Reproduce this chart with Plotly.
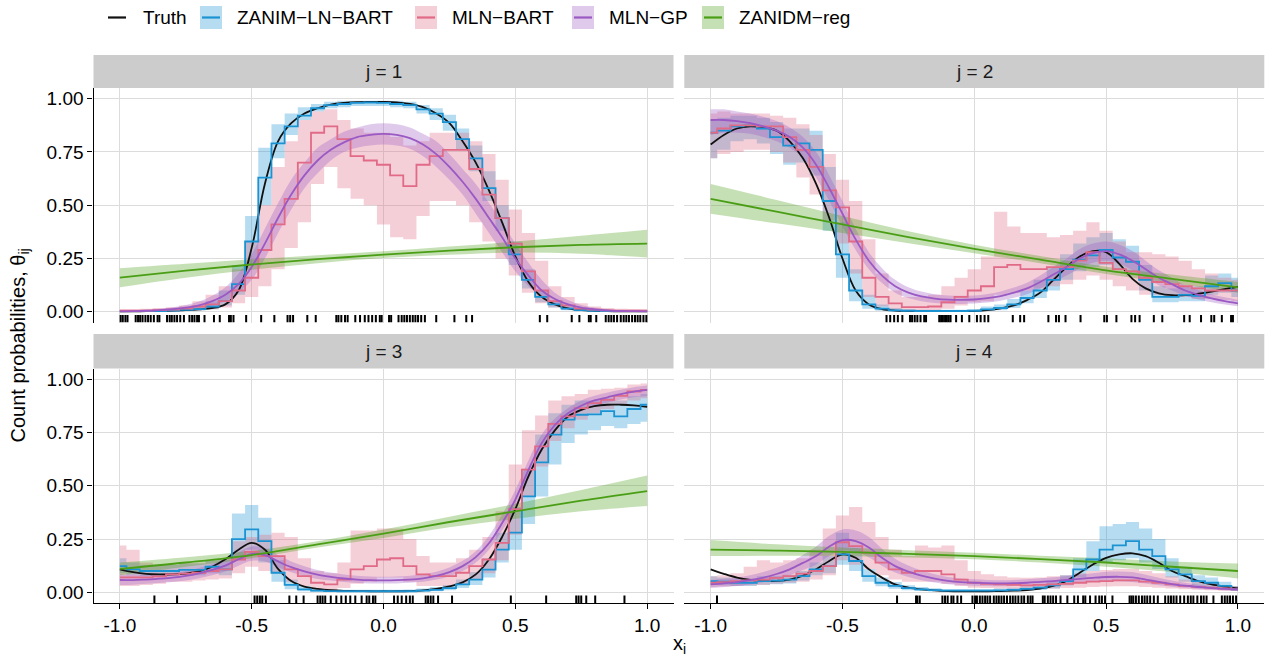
import plotly.graph_objects as go

# ---------------------------------------------------------------- data
# common evaluation grid (step 0.05) and coarse grid for the regression fit
X = [round(-1 + 0.05 * i, 2) for i in range(41)]
XQ = [-1.0, -0.75, -0.5, -0.25, 0.0, 0.25, 0.5, 0.75, 1.0]

X_TICKS = [-1.0, -0.5, 0.0, 0.5, 1.0]
X_TICK_TEXT = ["-1.0", "-0.5", "0.0", "0.5", "1.0"]
Y_TICKS = [0.0, 0.25, 0.5, 0.75, 1.0]
Y_TICK_TEXT = ["0.00", "0.25", "0.50", "0.75", "1.00"]

SERIES = ["Truth", "ZANIM\u2212LN\u2212BART", "MLN\u2212BART", "MLN\u2212GP", "ZANIDM\u2212reg"]
PANEL_TITLES = ["j = 1", "j = 2", "j = 3", "j = 4"]

# ---- j = 1
truth_j1 = [0.002, 0.002, 0.003, 0.004, 0.006, 0.008, 0.012, 0.018, 0.035, 0.10,
            0.30, 0.60, 0.80, 0.885, 0.93, 0.955, 0.972, 0.98, 0.984, 0.985,
            0.985, 0.983, 0.975, 0.96, 0.93, 0.885, 0.80, 0.70, 0.57, 0.42,
            0.26, 0.14, 0.07, 0.035, 0.016, 0.008, 0.005, 0.003, 0.002, 0.002,
            0.002]
zanim_j1 = [0.003, 0.003, 0.003, 0.004, 0.006, 0.009, 0.013, 0.025, 0.05, 0.13,
            0.33, 0.63, 0.79, 0.87, 0.92, 0.955, 0.97, 0.975, 0.98, 0.982,
            0.98, 0.975, 0.97, 0.95, 0.93, 0.89, 0.81, 0.72, 0.58, 0.44,
            0.27, 0.15, 0.07, 0.035, 0.015, 0.008, 0.005, 0.004, 0.003, 0.003,
            0.003]
zanim_lo_j1 = [0.0, 0.0, 0.001, 0.001, 0.002, 0.004, 0.006, 0.012, 0.03, 0.08,
               0.22, 0.50, 0.72, 0.83, 0.90, 0.94, 0.955, 0.96, 0.965, 0.965,
               0.965, 0.96, 0.955, 0.93, 0.90, 0.85, 0.76, 0.66, 0.52, 0.38,
               0.22, 0.11, 0.045, 0.02, 0.007, 0.003, 0.002, 0.001, 0.001, 0.0,
               0.0]
zanim_hi_j1 = [0.006, 0.006, 0.007, 0.008, 0.011, 0.016, 0.025, 0.05, 0.10, 0.22,
               0.45, 0.77, 0.88, 0.93, 0.96, 0.975, 0.985, 0.99, 0.99, 0.99,
               0.99, 0.99, 0.985, 0.97, 0.955, 0.925, 0.86, 0.78, 0.66, 0.50,
               0.33, 0.20, 0.10, 0.05, 0.025, 0.014, 0.009, 0.007, 0.006, 0.006,
               0.006]
mlnbart_j1 = [0.005, 0.005, 0.006, 0.008, 0.010, 0.015, 0.025, 0.035, 0.05, 0.10,
              0.16, 0.29, 0.41, 0.53, 0.70, 0.84, 0.87, 0.81, 0.73, 0.71,
              0.69, 0.64, 0.59, 0.69, 0.73, 0.76, 0.76, 0.67, 0.55, 0.44,
              0.32, 0.19, 0.10, 0.05, 0.03, 0.015, 0.01, 0.007, 0.006, 0.005,
              0.005]
mlnbart_lo_j1 = [0.0, 0.0, 0.0, 0.001, 0.002, 0.004, 0.008, 0.012, 0.02, 0.04,
                 0.07, 0.12, 0.20, 0.30, 0.42, 0.60, 0.68, 0.58, 0.53, 0.50,
                 0.41, 0.35, 0.34, 0.45, 0.52, 0.52, 0.50, 0.42, 0.33, 0.25,
                 0.17, 0.09, 0.04, 0.02, 0.01, 0.005, 0.003, 0.002, 0.001, 0.001,
                 0.001]
mlnbart_hi_j1 = [0.012, 0.012, 0.014, 0.018, 0.022, 0.03, 0.05, 0.08, 0.12, 0.20,
                 0.33, 0.50, 0.68, 0.80, 0.90, 0.94, 0.95, 0.90, 0.86, 0.84,
                 0.84, 0.82, 0.78, 0.80, 0.84, 0.84, 0.84, 0.80, 0.74, 0.62,
                 0.48, 0.37, 0.24, 0.12, 0.07, 0.04, 0.025, 0.018, 0.015, 0.013,
                 0.012]
gp_j1 = [0.002, 0.003, 0.005, 0.008, 0.013, 0.02, 0.03, 0.05, 0.08, 0.13,
         0.21, 0.32, 0.44, 0.55, 0.64, 0.71, 0.76, 0.795, 0.82, 0.83,
         0.835, 0.83, 0.815, 0.785, 0.74, 0.68, 0.61, 0.53, 0.44, 0.35,
         0.25, 0.17, 0.10, 0.06, 0.035, 0.02, 0.012, 0.007, 0.004, 0.003,
         0.002]
gp_lo_j1 = [0.0, 0.001, 0.002, 0.004, 0.007, 0.011, 0.017, 0.03, 0.05, 0.09,
            0.15, 0.25, 0.37, 0.48, 0.58, 0.65, 0.71, 0.75, 0.77, 0.78,
            0.785, 0.78, 0.765, 0.73, 0.68, 0.62, 0.55, 0.46, 0.37, 0.28,
            0.19, 0.12, 0.07, 0.04, 0.022, 0.012, 0.007, 0.004, 0.002, 0.001,
            0.0]
gp_hi_j1 = [0.005, 0.007, 0.01, 0.014, 0.022, 0.032, 0.048, 0.075, 0.115, 0.18,
            0.27, 0.39, 0.51, 0.62, 0.70, 0.77, 0.81, 0.845, 0.865, 0.88,
            0.885, 0.88, 0.865, 0.835, 0.80, 0.74, 0.67, 0.60, 0.51, 0.42,
            0.32, 0.23, 0.15, 0.09, 0.055, 0.032, 0.02, 0.012, 0.008, 0.006,
            0.005]
dm_j1 = [0.16, 0.193, 0.222, 0.247, 0.268, 0.287, 0.303, 0.314, 0.32]
dm_lo_j1 = [0.115, 0.16, 0.197, 0.228, 0.252, 0.268, 0.278, 0.272, 0.255]
dm_hi_j1 = [0.205, 0.226, 0.247, 0.266, 0.284, 0.306, 0.33, 0.357, 0.385]
rug_j1 = [-0.997, -0.989, -0.979, -0.971, -0.94, -0.931, -0.923, -0.914, -0.903, -0.893,
          -0.883, -0.871, -0.857, -0.85, -0.821, -0.811, -0.803, -0.793, -0.783, -0.771,
          -0.757, -0.736, -0.726, -0.717, -0.707, -0.7, -0.679, -0.643, -0.621, -0.586,
          -0.579, -0.569, -0.521, -0.464, -0.414, -0.364, -0.354, -0.343, -0.289, -0.257,
          -0.179, -0.171, -0.16, -0.146, -0.136, -0.107, -0.089, -0.071, -0.057, -0.043,
          -0.029, -0.014, -0.007, 0.021, 0.029, 0.057, 0.069, 0.079, 0.089, 0.1,
          0.111, 0.121, 0.131, 0.143, 0.157, 0.2, 0.269, 0.314, 0.336, 0.593,
          0.621, 0.714, 0.743, 0.779, 0.786, 0.807, 0.843, 0.854, 0.864, 0.874,
          0.886, 0.9, 0.911, 0.921, 0.931, 0.943, 0.954, 0.964, 0.974, 0.986, 0.997]

# ---- j = 2
truth_j2 = [0.785, 0.83, 0.86, 0.87, 0.865, 0.85, 0.80, 0.72, 0.60, 0.44,
            0.25, 0.10, 0.035, 0.013, 0.006, 0.004, 0.003, 0.003, 0.003, 0.003,
            0.004, 0.008, 0.016, 0.03, 0.055, 0.09, 0.15, 0.21, 0.26, 0.285,
            0.28, 0.225, 0.155, 0.11, 0.087, 0.078, 0.078, 0.085, 0.095, 0.107,
            0.117]
zanim_j2 = [0.84, 0.85, 0.87, 0.875, 0.86, 0.82, 0.78, 0.79, 0.76, 0.52,
            0.27, 0.10, 0.035, 0.015, 0.007, 0.005, 0.004, 0.004, 0.004, 0.004,
            0.005, 0.012, 0.018, 0.035, 0.065, 0.10, 0.15, 0.20, 0.245, 0.265,
            0.29, 0.255, 0.235, 0.15, 0.07, 0.07, 0.08, 0.075, 0.12, 0.135,
            0.10]
zanim_lo_j2 = [0.72, 0.76, 0.80, 0.81, 0.79, 0.74, 0.69, 0.70, 0.64, 0.38,
               0.16, 0.05, 0.015, 0.005, 0.002, 0.001, 0.001, 0.001, 0.001, 0.001,
               0.002, 0.005, 0.008, 0.018, 0.04, 0.065, 0.10, 0.15, 0.19, 0.21,
               0.22, 0.20, 0.17, 0.10, 0.045, 0.045, 0.05, 0.05, 0.08, 0.09,
               0.07]
zanim_hi_j2 = [0.90, 0.91, 0.92, 0.92, 0.91, 0.89, 0.86, 0.86, 0.85, 0.68,
               0.42, 0.20, 0.08, 0.035, 0.018, 0.012, 0.01, 0.01, 0.01, 0.01,
               0.012, 0.025, 0.035, 0.06, 0.10, 0.15, 0.21, 0.27, 0.32, 0.35,
               0.37, 0.34, 0.31, 0.22, 0.12, 0.11, 0.12, 0.12, 0.17, 0.18,
               0.16]
mlnbart_j2 = [0.84, 0.86, 0.875, 0.875, 0.87, 0.87, 0.82, 0.76, 0.68, 0.57,
              0.49, 0.33, 0.16, 0.07, 0.04, 0.022, 0.022, 0.025, 0.045, 0.07,
              0.10, 0.12, 0.21, 0.22, 0.20, 0.20, 0.21, 0.21, 0.24, 0.28,
              0.23, 0.20, 0.19, 0.16, 0.14, 0.13, 0.12, 0.11, 0.10, 0.10,
              0.10]
mlnbart_lo_j2 = [0.72, 0.74, 0.75, 0.76, 0.76, 0.75, 0.70, 0.63, 0.55, 0.43,
                 0.32, 0.18, 0.07, 0.025, 0.01, 0.005, 0.006, 0.008, 0.015, 0.03,
                 0.045, 0.05, 0.08, 0.09, 0.10, 0.11, 0.12, 0.13, 0.15, 0.17,
                 0.15, 0.12, 0.10, 0.08, 0.08, 0.07, 0.07, 0.06, 0.06, 0.055,
                 0.05]
mlnbart_hi_j2 = [0.93, 0.94, 0.93, 0.93, 0.93, 0.92, 0.91, 0.88, 0.83, 0.74,
                 0.62, 0.52, 0.34, 0.18, 0.10, 0.07, 0.07, 0.08, 0.12, 0.16,
                 0.20, 0.26, 0.47, 0.40, 0.37, 0.37, 0.35, 0.36, 0.38, 0.42,
                 0.38, 0.33, 0.28, 0.28, 0.27, 0.26, 0.24, 0.20, 0.18, 0.16,
                 0.15]
gp_j2 = [0.90, 0.90, 0.895, 0.885, 0.87, 0.85, 0.82, 0.77, 0.69, 0.58,
         0.46, 0.34, 0.24, 0.17, 0.12, 0.09, 0.072, 0.062, 0.057, 0.056,
         0.058, 0.064, 0.074, 0.09, 0.11, 0.14, 0.175, 0.21, 0.25, 0.275,
         0.285, 0.27, 0.24, 0.20, 0.16, 0.13, 0.10, 0.08, 0.063, 0.05,
         0.04]
gp_lo_j2 = [0.83, 0.84, 0.84, 0.835, 0.82, 0.80, 0.77, 0.72, 0.63, 0.52,
            0.40, 0.29, 0.20, 0.135, 0.09, 0.065, 0.05, 0.042, 0.038, 0.037,
            0.039, 0.044, 0.052, 0.066, 0.083, 0.11, 0.14, 0.17, 0.205, 0.23,
            0.24, 0.225, 0.195, 0.16, 0.125, 0.10, 0.075, 0.058, 0.045, 0.035,
            0.027]
gp_hi_j2 = [0.95, 0.95, 0.94, 0.93, 0.915, 0.895, 0.865, 0.82, 0.75, 0.64,
            0.52, 0.39, 0.28, 0.205, 0.15, 0.115, 0.095, 0.083, 0.077, 0.075,
            0.077, 0.084, 0.096, 0.114, 0.137, 0.17, 0.21, 0.25, 0.295, 0.32,
            0.33, 0.315, 0.285, 0.24, 0.195, 0.16, 0.125, 0.102, 0.083, 0.068,
            0.056]
dm_j2 = [0.53, 0.47, 0.41, 0.35, 0.295, 0.245, 0.195, 0.155, 0.115]
dm_lo_j2 = [0.46, 0.415, 0.37, 0.322, 0.275, 0.228, 0.178, 0.135, 0.09]
dm_hi_j2 = [0.60, 0.525, 0.45, 0.378, 0.315, 0.262, 0.212, 0.175, 0.14]
rug_j2 = [-0.333, -0.319, -0.304, -0.29, -0.273, -0.244, -0.236, -0.226, -0.216, -0.204,
          -0.19, -0.183, -0.133, -0.126, -0.119, -0.111, -0.104, -0.097, -0.09, -0.069,
          -0.047, -0.019, 0.01, 0.024, 0.039, 0.053, 0.146, 0.174, 0.189, 0.281,
          0.31, 0.321, 0.346, 0.403, 0.493, 0.503, 0.539, 0.596, 0.61, 0.627,
          0.681, 0.713, 0.796, 0.817, 0.86, 0.899, 0.91, 0.939, 0.974, 0.981]

# ---- j = 3
truth_j3 = [0.108, 0.095, 0.087, 0.084, 0.084, 0.088, 0.098, 0.12, 0.155, 0.20,
            0.232, 0.20, 0.11, 0.053, 0.027, 0.016, 0.01, 0.007, 0.006, 0.005,
            0.005, 0.005, 0.006, 0.009, 0.016, 0.028, 0.047, 0.084, 0.154, 0.26,
            0.39, 0.545, 0.67, 0.76, 0.825, 0.856, 0.873, 0.88, 0.88, 0.877,
            0.87]
zanim_j3 = [0.123, 0.108, 0.10, 0.10, 0.10, 0.105, 0.105, 0.12, 0.108, 0.25,
            0.295, 0.24, 0.092, 0.035, 0.014, 0.008, 0.006, 0.005, 0.005, 0.005,
            0.005, 0.005, 0.005, 0.008, 0.012, 0.02, 0.037, 0.06, 0.107, 0.20,
            0.28, 0.45, 0.61, 0.74, 0.81, 0.833, 0.835, 0.85, 0.825, 0.86,
            0.88]
zanim_lo_j3 = [0.09, 0.08, 0.075, 0.075, 0.075, 0.08, 0.08, 0.09, 0.08, 0.15,
               0.20, 0.14, 0.05, 0.015, 0.005, 0.002, 0.002, 0.002, 0.002, 0.002,
               0.002, 0.002, 0.002, 0.003, 0.005, 0.01, 0.02, 0.035, 0.07, 0.14,
               0.20, 0.32, 0.45, 0.60, 0.70, 0.74, 0.76, 0.78, 0.77, 0.79,
               0.80]
zanim_hi_j3 = [0.16, 0.14, 0.13, 0.13, 0.13, 0.135, 0.135, 0.15, 0.15, 0.37,
               0.41, 0.35, 0.15, 0.06, 0.03, 0.018, 0.014, 0.012, 0.012, 0.012,
               0.012, 0.012, 0.013, 0.018, 0.025, 0.035, 0.06, 0.095, 0.16, 0.28,
               0.40, 0.58, 0.74, 0.84, 0.88, 0.90, 0.90, 0.91, 0.90, 0.92,
               0.93]
mlnbart_j3 = [0.07, 0.07, 0.07, 0.075, 0.084, 0.088, 0.092, 0.10, 0.108, 0.154,
              0.19, 0.17, 0.17, 0.108, 0.076, 0.045, 0.037, 0.06, 0.108, 0.123,
              0.154, 0.16, 0.123, 0.084, 0.076, 0.076, 0.092, 0.123, 0.154, 0.232,
              0.39, 0.576, 0.685, 0.79, 0.825, 0.864, 0.888, 0.903, 0.922, 0.942,
              0.95]
mlnbart_lo_j3 = [0.03, 0.03, 0.035, 0.04, 0.05, 0.05, 0.055, 0.06, 0.065, 0.09,
                 0.12, 0.10, 0.09, 0.05, 0.03, 0.015, 0.012, 0.02, 0.04, 0.05,
                 0.07, 0.07, 0.05, 0.03, 0.03, 0.03, 0.04, 0.06, 0.09, 0.15,
                 0.27, 0.45, 0.59, 0.71, 0.77, 0.81, 0.84, 0.86, 0.88, 0.90,
                 0.91]
mlnbart_hi_j3 = [0.22, 0.20, 0.14, 0.13, 0.13, 0.14, 0.14, 0.15, 0.16, 0.24,
                 0.26, 0.27, 0.28, 0.26, 0.16, 0.10, 0.09, 0.14, 0.29, 0.29,
                 0.30, 0.30, 0.25, 0.17, 0.14, 0.14, 0.16, 0.20, 0.26, 0.38,
                 0.60, 0.76, 0.83, 0.90, 0.92, 0.93, 0.95, 0.955, 0.96, 0.975,
                 0.98]
gp_j3 = [0.058, 0.057, 0.06, 0.064, 0.069, 0.077, 0.089, 0.105, 0.125, 0.155,
         0.18, 0.175, 0.145, 0.118, 0.098, 0.083, 0.073, 0.065, 0.06, 0.057,
         0.056, 0.057, 0.06, 0.066, 0.077, 0.095, 0.123, 0.165, 0.23, 0.325,
         0.435, 0.575, 0.70, 0.785, 0.84, 0.875, 0.90, 0.915, 0.93, 0.942,
         0.95]
gp_lo_j3 = [0.035, 0.036, 0.04, 0.044, 0.049, 0.056, 0.066, 0.08, 0.098, 0.125,
            0.148, 0.145, 0.118, 0.094, 0.076, 0.063, 0.055, 0.048, 0.044, 0.042,
            0.041, 0.042, 0.045, 0.05, 0.06, 0.076, 0.10, 0.14, 0.20, 0.29,
            0.39, 0.53, 0.66, 0.755, 0.815, 0.85, 0.875, 0.89, 0.905, 0.915,
            0.92]
gp_hi_j3 = [0.085, 0.082, 0.083, 0.086, 0.091, 0.10, 0.114, 0.132, 0.155, 0.188,
            0.215, 0.208, 0.175, 0.145, 0.122, 0.105, 0.093, 0.084, 0.078, 0.074,
            0.073, 0.074, 0.078, 0.085, 0.097, 0.117, 0.148, 0.193, 0.265, 0.365,
            0.48, 0.62, 0.74, 0.815, 0.865, 0.90, 0.922, 0.937, 0.95, 0.962,
            0.97]
dm_j3 = [0.11, 0.14, 0.175, 0.225, 0.275, 0.33, 0.38, 0.43, 0.475]
dm_lo_j3 = [0.08, 0.12, 0.16, 0.21, 0.255, 0.305, 0.345, 0.38, 0.405]
dm_hi_j3 = [0.14, 0.165, 0.195, 0.24, 0.295, 0.355, 0.415, 0.48, 0.548]
rug_j3 = [-0.869, -0.783, -0.674, -0.621, -0.489, -0.479, -0.469, -0.46, -0.446, -0.357,
          -0.331, -0.303, -0.25, -0.24, -0.231, -0.221, -0.2, -0.179, -0.16, -0.143,
          -0.126, -0.107, -0.083, -0.064, -0.054, -0.04, -0.031, 0.04, 0.054, 0.069,
          0.086, 0.1, 0.111, 0.16, 0.169, 0.179, 0.189, 0.207, 0.26, 0.483,
          0.617, 0.731, 0.74, 0.75, 0.769, 0.803, 0.914]

# ---- j = 4
truth_j4 = [0.108, 0.087, 0.069, 0.058, 0.053, 0.054, 0.06, 0.078, 0.108, 0.147,
            0.178, 0.162, 0.108, 0.069, 0.037, 0.022, 0.014, 0.009, 0.006, 0.005,
            0.005, 0.005, 0.006, 0.008, 0.011, 0.018, 0.03, 0.053, 0.092, 0.131,
            0.162, 0.178, 0.183, 0.17, 0.139, 0.10, 0.076, 0.053, 0.037, 0.027,
            0.019]
zanim_j4 = [0.053, 0.05, 0.045, 0.045, 0.053, 0.055, 0.06, 0.076, 0.108, 0.123,
            0.178, 0.147, 0.076, 0.045, 0.03, 0.02, 0.014, 0.01, 0.008, 0.008,
            0.008, 0.008, 0.009, 0.012, 0.016, 0.022, 0.033, 0.053, 0.108, 0.154,
            0.20, 0.22, 0.24, 0.20, 0.17, 0.108, 0.084, 0.053, 0.045, 0.03,
            0.014]
zanim_lo_j4 = [0.035, 0.033, 0.03, 0.03, 0.036, 0.038, 0.042, 0.055, 0.08, 0.09,
               0.13, 0.10, 0.05, 0.028, 0.017, 0.01, 0.006, 0.004, 0.003, 0.003,
               0.003, 0.003, 0.003, 0.005, 0.007, 0.011, 0.018, 0.032, 0.07, 0.10,
               0.14, 0.15, 0.16, 0.14, 0.11, 0.07, 0.05, 0.03, 0.025, 0.015,
               0.006]
zanim_hi_j4 = [0.075, 0.07, 0.065, 0.065, 0.075, 0.077, 0.083, 0.10, 0.14, 0.17,
               0.28, 0.21, 0.11, 0.07, 0.048, 0.033, 0.025, 0.019, 0.016, 0.016,
               0.016, 0.016, 0.018, 0.022, 0.028, 0.037, 0.052, 0.08, 0.16, 0.24,
               0.31, 0.32, 0.33, 0.30, 0.25, 0.16, 0.12, 0.08, 0.07, 0.05,
               0.03]
mlnbart_j4 = [0.045, 0.048, 0.053, 0.056, 0.06, 0.068, 0.076, 0.088, 0.10, 0.123,
              0.235, 0.217, 0.186, 0.139, 0.108, 0.092, 0.10, 0.10, 0.084, 0.06,
              0.045, 0.04, 0.037, 0.035, 0.033, 0.035, 0.037, 0.04, 0.045, 0.05,
              0.053, 0.056, 0.056, 0.05, 0.045, 0.037, 0.03, 0.026, 0.022, 0.018,
              0.014]
mlnbart_lo_j4 = [0.025, 0.027, 0.03, 0.032, 0.035, 0.04, 0.045, 0.05, 0.06, 0.08,
                 0.15, 0.13, 0.11, 0.08, 0.06, 0.05, 0.05, 0.05, 0.04, 0.03,
                 0.022, 0.02, 0.018, 0.017, 0.016, 0.017, 0.018, 0.02, 0.022, 0.025,
                 0.027, 0.028, 0.028, 0.025, 0.022, 0.018, 0.015, 0.012, 0.01, 0.008,
                 0.006]
mlnbart_hi_j4 = [0.075, 0.08, 0.09, 0.12, 0.15, 0.14, 0.15, 0.16, 0.20, 0.30,
                 0.36, 0.40, 0.33, 0.26, 0.20, 0.17, 0.22, 0.21, 0.22, 0.15,
                 0.10, 0.085, 0.075, 0.07, 0.068, 0.07, 0.075, 0.08, 0.09, 0.10,
                 0.105, 0.11, 0.11, 0.10, 0.09, 0.075, 0.06, 0.05, 0.045, 0.035,
                 0.03]
gp_j4 = [0.037, 0.042, 0.048, 0.057, 0.069, 0.086, 0.108, 0.138, 0.17, 0.215,
         0.245, 0.24, 0.21, 0.162, 0.123, 0.097, 0.078, 0.064, 0.054, 0.048,
         0.045, 0.043, 0.042, 0.043, 0.045, 0.049, 0.053, 0.058, 0.063, 0.068,
         0.072, 0.073, 0.07, 0.06, 0.049, 0.039, 0.031, 0.025, 0.02, 0.016,
         0.014]
gp_lo_j4 = [0.02, 0.025, 0.03, 0.037, 0.047, 0.061, 0.08, 0.105, 0.13, 0.17,
            0.195, 0.19, 0.165, 0.125, 0.093, 0.072, 0.057, 0.046, 0.038, 0.033,
            0.031, 0.03, 0.029, 0.03, 0.031, 0.034, 0.037, 0.041, 0.045, 0.049,
            0.052, 0.052, 0.049, 0.042, 0.033, 0.026, 0.02, 0.015, 0.012, 0.009,
            0.008]
gp_hi_j4 = [0.058, 0.064, 0.07, 0.08, 0.095, 0.115, 0.14, 0.175, 0.215, 0.265,
            0.295, 0.29, 0.26, 0.205, 0.158, 0.126, 0.102, 0.085, 0.072, 0.065,
            0.061, 0.058, 0.057, 0.058, 0.061, 0.066, 0.071, 0.077, 0.083, 0.09,
            0.097, 0.098, 0.095, 0.083, 0.069, 0.056, 0.045, 0.036, 0.029, 0.025,
            0.022]
dm_j4 = [0.20, 0.196, 0.19, 0.18, 0.17, 0.156, 0.14, 0.12, 0.10]
dm_lo_j4 = [0.17, 0.172, 0.17, 0.163, 0.155, 0.14, 0.12, 0.095, 0.065]
dm_hi_j4 = [0.245, 0.225, 0.21, 0.198, 0.186, 0.172, 0.16, 0.145, 0.135]
rug_j4 = [-0.976, -0.293, -0.221, -0.216, -0.207, -0.121, -0.111, -0.101, -0.087, -0.079,
          -0.064, -0.05, -0.007, 0.003, 0.01, 0.021, 0.031, 0.041, 0.05, 0.06,
          0.074, 0.084, 0.093, 0.103, 0.113, 0.124, 0.136, 0.146, 0.156, 0.167,
          0.179, 0.189, 0.203, 0.213, 0.221, 0.26, 0.267, 0.279, 0.289, 0.299,
          0.31, 0.327, 0.353, 0.379, 0.393, 0.413, 0.421, 0.439, 0.46, 0.474,
          0.484, 0.496, 0.524, 0.589, 0.596, 0.603, 0.613, 0.624, 0.636, 0.646,
          0.656, 0.667, 0.681, 0.696, 0.724, 0.736, 0.746, 0.756, 0.767, 0.781,
          0.796, 0.81, 0.821, 0.831, 0.846, 0.86, 0.87, 0.881, 0.907, 0.939,
          0.95, 0.96, 0.97, 0.981, 0.993]

# ---------------------------------------------------------------- styling
W, H = 1269, 657
FONT = "Liberation Sans, Arial, Helvetica, sans-serif"
LINE_COLORS = ["#111111", "#1B93D3", "#E16A86", "#9B59C3", "#4A9E15"]
BAND_ALPHA = 0.32


def rgba(hex_color, a):
    h = hex_color.lstrip("#")
    r, g, b = int(h[0:2], 16), int(h[2:4], 16), int(h[4:6], 16)
    return f"rgba({r},{g},{b},{a})"


def px(x):
    return x / W


def py(y):
    return 1 - y / H


# panel rectangles in pixels: (left, right) per column, (top, bottom) per row
COLS = [(93.5, 673.5), (684.3, 1264.3)]
ROWS = [(88.0, 322.5), (368.5, 603.0)]
STRIPS = [(55.0, 88.0), (334.0, 368.5)]

panels = [
    dict(truth=truth_j1, zanim=(zanim_j1, zanim_lo_j1, zanim_hi_j1),
         mlnbart=(mlnbart_j1, mlnbart_lo_j1, mlnbart_hi_j1),
         gp=(gp_j1, gp_lo_j1, gp_hi_j1), dm=(dm_j1, dm_lo_j1, dm_hi_j1), rug=rug_j1),
    dict(truth=truth_j2, zanim=(zanim_j2, zanim_lo_j2, zanim_hi_j2),
         mlnbart=(mlnbart_j2, mlnbart_lo_j2, mlnbart_hi_j2),
         gp=(gp_j2, gp_lo_j2, gp_hi_j2), dm=(dm_j2, dm_lo_j2, dm_hi_j2), rug=rug_j2),
    dict(truth=truth_j3, zanim=(zanim_j3, zanim_lo_j3, zanim_hi_j3),
         mlnbart=(mlnbart_j3, mlnbart_lo_j3, mlnbart_hi_j3),
         gp=(gp_j3, gp_lo_j3, gp_hi_j3), dm=(dm_j3, dm_lo_j3, dm_hi_j3), rug=rug_j3),
    dict(truth=truth_j4, zanim=(zanim_j4, zanim_lo_j4, zanim_hi_j4),
         mlnbart=(mlnbart_j4, mlnbart_lo_j4, mlnbart_hi_j4),
         gp=(gp_j4, gp_lo_j4, gp_hi_j4), dm=(dm_j4, dm_lo_j4, dm_hi_j4), rug=rug_j4),
]

fig = go.Figure()


def band(xs, lo, hi, color, shape, xa, ya):
    fig.add_trace(go.Scatter(x=xs, y=lo, mode="lines", line=dict(width=0, shape=shape),
                             hoverinfo="skip", showlegend=False, xaxis=xa, yaxis=ya))
    fig.add_trace(go.Scatter(x=xs, y=hi, mode="lines", line=dict(width=0, shape=shape),
                             fill="tonexty", fillcolor=rgba(color, BAND_ALPHA),
                             hoverinfo="skip", showlegend=False, xaxis=xa, yaxis=ya))


def curve(xs, ys, color, shape, name, xa, ya):
    fig.add_trace(go.Scatter(x=xs, y=ys, mode="lines", name=name,
                             line=dict(color=color, width=1.8, shape=shape),
                             showlegend=False, xaxis=xa, yaxis=ya))


for k, p in enumerate(panels):
    xa = "x" if k == 0 else f"x{k + 1}"
    ya = "y" if k == 0 else f"y{k + 1}"
    # uncertainty bands
    band(X, p["zanim"][1], p["zanim"][2], LINE_COLORS[1], "hvh", xa, ya)
    band(X, p["mlnbart"][1], p["mlnbart"][2], LINE_COLORS[2], "hvh", xa, ya)
    band(X, p["gp"][1], p["gp"][2], LINE_COLORS[3], "spline", xa, ya)
    band(XQ, p["dm"][1], p["dm"][2], LINE_COLORS[4], "spline", xa, ya)
    # posterior means and truth
    curve(X, p["truth"], LINE_COLORS[0], "spline", SERIES[0], xa, ya)
    curve(X, p["zanim"][0], LINE_COLORS[1], "hvh", SERIES[1], xa, ya)
    curve(X, p["mlnbart"][0], LINE_COLORS[2], "hvh", SERIES[2], xa, ya)
    curve(X, p["gp"][0], LINE_COLORS[3], "spline", SERIES[3], xa, ya)
    curve(XQ, p["dm"][0], LINE_COLORS[4], "spline", SERIES[4], xa, ya)
    # rug of observed covariate values
    rx, ry = [], []
    for v in p["rug"]:
        rx += [v, v, None]
        ry += [-0.05, -0.015, None]
    fig.add_trace(go.Scatter(x=rx, y=ry, mode="lines", line=dict(color="black", width=2),
                             hoverinfo="skip", showlegend=False, xaxis=xa, yaxis=ya))

layout = dict(
    width=W, height=H, margin=dict(l=0, r=0, t=0, b=0),
    paper_bgcolor="white", plot_bgcolor="white",
    font=dict(family=FONT, size=19, color="black"),
    showlegend=False,
)

shapes, annotations = [], []
for k in range(4):
    r, c = divmod(k, 2)
    sfx = "" if k == 0 else str(k + 1)
    left, right = COLS[c]
    top, bottom = ROWS[r]
    bottom_row = r == 1
    left_col = c == 0
    layout["xaxis" + sfx] = dict(
        domain=[px(left), px(right)], anchor="y" + sfx, range=[-1.1, 1.1],
        tickvals=X_TICKS, ticktext=X_TICK_TEXT,
        showgrid=True, gridcolor="#DCDCDC", gridwidth=1.1, zeroline=False,
        showticklabels=bottom_row, showline=bottom_row, linecolor="black", linewidth=1.2,
        ticks="outside" if bottom_row else "", ticklen=5, tickcolor="black",
        tickfont=dict(size=19, color="black"),
    )
    layout["yaxis" + sfx] = dict(
        domain=[py(bottom), py(top)], anchor="x" + sfx, range=[-0.05, 1.05],
        tickvals=Y_TICKS, ticktext=Y_TICK_TEXT,
        showgrid=True, gridcolor="#DCDCDC", gridwidth=1.1, zeroline=False,
        showticklabels=left_col, showline=left_col, linecolor="black", linewidth=1.2,
        ticks="outside" if left_col else "", ticklen=5, tickcolor="black",
        tickfont=dict(size=19, color="black"),
    )
    s_top, s_bot = STRIPS[r]
    shapes.append(dict(type="rect", xref="paper", yref="paper",
                       x0=px(left), x1=px(right), y0=py(s_bot), y1=py(s_top),
                       fillcolor="#CCCCCC", line=dict(width=0), layer="below"))
    annotations.append(dict(text=PANEL_TITLES[k], xref="paper", yref="paper",
                            x=px((left + right) / 2), y=py((s_top + s_bot) / 2),
                            xanchor="center", yanchor="middle", showarrow=False,
                            font=dict(size=19, color="#1a1a1a")))

# axis titles
annotations.append(dict(text="Count probabilities, \u03b8<sub>ij</sub>", xref="paper", yref="paper",
                        x=px(19), y=py(345.5), textangle=-90, xanchor="center", yanchor="middle",
                        showarrow=False, font=dict(size=20, color="black")))
annotations.append(dict(text="x<sub>i</sub>", xref="paper", yref="paper",
                        x=px(679), y=py(644), xanchor="center", yanchor="middle",
                        showarrow=False, font=dict(size=20, color="black")))

# legend drawn as keys + labels along the top
LEG_Y0, LEG_Y1 = 6.0, 29.0
leg_keys = [106, 200, 415, 572, 702]
for i, name in enumerate(SERIES):
    kx = leg_keys[i]
    if i > 0:
        shapes.append(dict(type="rect", xref="paper", yref="paper",
                           x0=px(kx), x1=px(kx + 22), y0=py(LEG_Y1), y1=py(LEG_Y0),
                           fillcolor=rgba(LINE_COLORS[i], BAND_ALPHA), line=dict(width=0)))
    ym = (LEG_Y0 + LEG_Y1) / 2
    shapes.append(dict(type="line", xref="paper", yref="paper",
                       x0=px(kx + 2), x1=px(kx + 20), y0=py(ym), y1=py(ym),
                       line=dict(color=LINE_COLORS[i], width=2.2)))
    annotations.append(dict(text=name, xref="paper", yref="paper",
                            x=px(kx + 35), y=py(ym), xanchor="left", yanchor="middle",
                            showarrow=False, font=dict(size=19, color="black")))

layout["shapes"] = shapes
layout["annotations"] = annotations
fig.update_layout(**layout)

fig.write_html("out.html")
